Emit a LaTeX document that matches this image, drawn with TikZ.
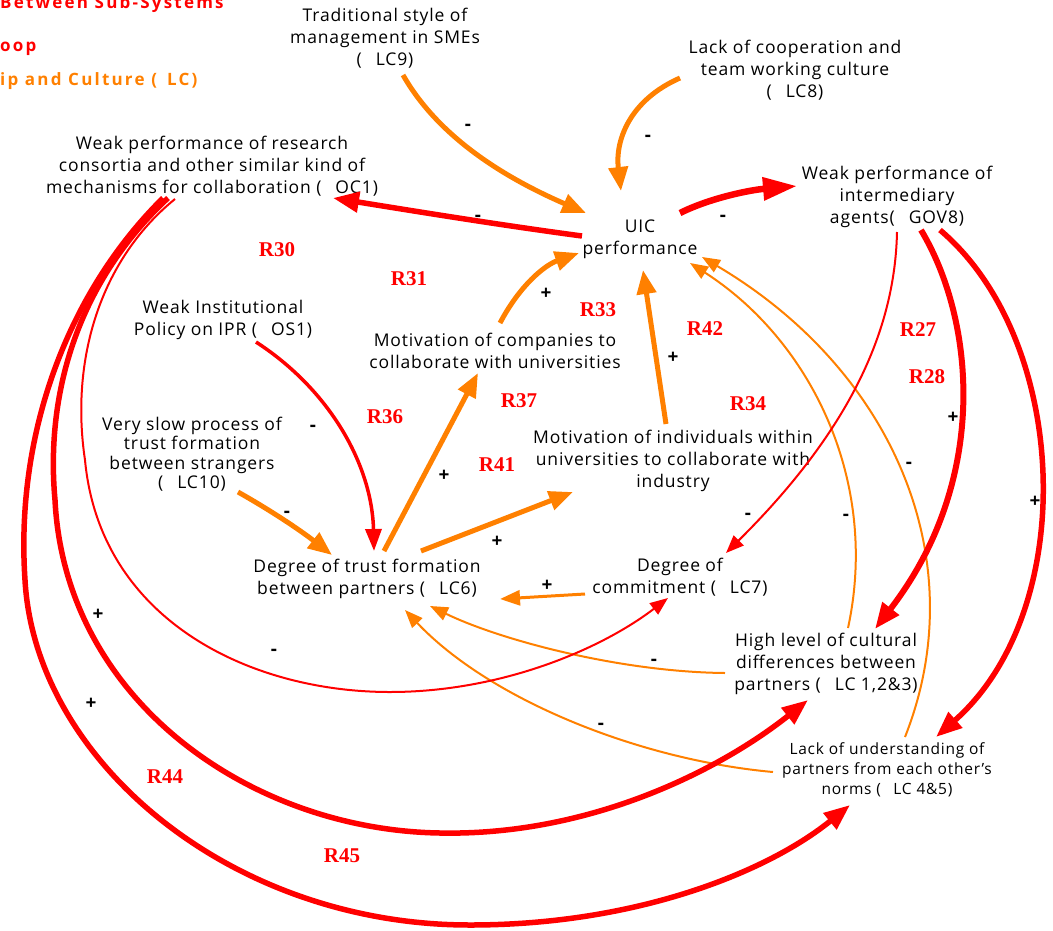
\documentclass[tikz,border=0pt]{standalone}
\usepackage{fontspec}
\setmainfont{Open Sans}[LetterSpace=5]
\newfontfamily\loopserif{Liberation Serif}
\newfontfamily\legendsans{Open Sans}[LetterSpace=13]
\newfontfamily\signsans{Open Sans}
\usetikzlibrary{arrows.meta}
\definecolor{cRed}{RGB}{255,0,0}
\definecolor{cOrange}{RGB}{255,128,0}

\tikzset{
  var/.style={align=center, inner sep=0pt, font=\fontsize{17.5}{22}\selectfont},
  varsmall/.style={align=center, inner sep=0pt, font=\fontsize{15.5}{20}\selectfont},
  looplabel/.style={inner sep=0pt, text=cRed, font=\fontsize{21}{24}\loopserif\bfseries},
  sgn/.style={inner sep=0pt, font=\fontsize{19}{20}\signsans\bfseries},
  legend/.style={inner sep=0pt, anchor=base west, font=\fontsize{17}{20}\legendsans\bfseries},
  oThick/.style={draw=cOrange, line width=5pt, -{Triangle[length=24pt,width=19pt]}},
  rThick/.style={draw=cRed, line width=5.5pt, -{Triangle[length=26pt,width=20pt]}},
  rMid/.style={draw=cRed, line width=3.5pt, -{Triangle[length=22pt,width=16pt]}},
  oMid/.style={draw=cOrange, line width=3pt, -{Triangle[length=20pt,width=15pt]}},
  oThin/.style={draw=cOrange, line width=2pt, -{Triangle[length=18pt,width=14pt]}},
  rThin/.style={draw=cRed, line width=2pt, -{Triangle[length=18pt,width=14pt]}},
}

\begin{document}
\begin{tikzpicture}[x=1pt, y=-1pt]
\useasboundingbox (0,0) rectangle (1053,930);
\clip (0,0) rectangle (1053,930);

% legend lines at the top left
\node[legend, text=cRed] (leg1) at (0,8) {Between Sub-Systems};
\node[legend, text=cRed] (leg2) at (0,51) {oop};
\node[legend, text=cOrange] (leg3) at (0,85) {ip and Culture (\hspace{0.6em}LC)};

% variables
\node[var] (lc9) at (385,38) {Traditional style of\\management in SMEs\\(\hspace{0.8em}LC9)};
\node[var] (lc8) at (795,70) {Lack of cooperation and\\team working culture\\(\hspace{0.8em}LC8)};
\node[var] (oc1) at (212,166) {Weak performance of research\\consortia and other similar kind of\\mechanisms for collaboration (\hspace{0.8em}OC1)};
\node[var] (uic) at (640,239) {UIC\\performance};
\node[var] (gov8) at (897,197) {Weak performance of\\intermediary\\agents(\hspace{0.8em}GOV8)};
\node[var] (os1) at (223,320) {Weak Institutional\\Policy on IPR (\hspace{0.8em}OS1)};
\node[var] (motc) at (495,351) {Motivation of companies to\\collaborate with universities};
\node[var, font=\fontsize{17.5}{19.5}\selectfont] (lc10) at (192,454) {Very slow process of\\trust formation\\between strangers\\(\hspace{0.8em}LC10)};
\node[var] (moti) at (673,461) {Motivation of individuals within\\universities to collaborate with\\industry};
\node[var] (lc6) at (367,579) {Degree of trust formation\\between partners (\hspace{0.8em}LC6)};
\node[var] (lc7) at (680,577) {Degree of\\commitment (\hspace{0.8em}LC7)};
\node[var] (lc123) at (826,664) {High level of cultural\\differences between\\partners (\hspace{0.8em}LC 1,2\&3)};
\node[varsmall] (lc45) at (887,770) {Lack of understanding of\\partners from each other's\\norms (\hspace{0.8em}LC 4\&5)};

% loop names
\node[looplabel] (r30) at (277,250) {R30};
\node[looplabel] (r31) at (409,279) {R31};
\node[looplabel] (r33) at (598,310) {R33};
\node[looplabel] (r42) at (705,329) {R42};
\node[looplabel] (r27) at (918,330) {R27};
\node[looplabel] (r28) at (927,377) {R28};
\node[looplabel] (r36) at (385,417) {R36};
\node[looplabel] (r37) at (519,401) {R37};
\node[looplabel] (r34) at (748,404) {R34};
\node[looplabel] (r41) at (497,465) {R41};
\node[looplabel] (r44) at (165,777) {R44};
\node[looplabel] (r45) at (342,856) {R45};

% links into UIC performance
\draw[oThick] ([shift={(18,37)}]lc9.center) .. controls (440,140) and (510,180) .. ([shift={(-54,-26)}]uic.center);
\draw[oThick] ([shift={(-115,8)}]lc8.center) .. controls (630,100) and (615,140) .. ([shift={(-19,-48)}]uic.center);
\draw[oThick] ([shift={(5,-28)}]motc.center) .. controls (520,285) and (545,265) .. ([shift={(-61,14)}]uic.center);
\draw[oThick] ([shift={(-7,-37)}]moti.center) -- ([shift={(3,31)}]uic.center);
\draw[oThin] ([shift={(22,-36)}]lc123.center) .. controls (880,480) and (810,340) .. ([shift={(50,24)}]uic.center);
\draw[oThin] ([shift={(18,-33)}]lc45.center) .. controls (975,560) and (893,370) .. ([shift={(62,18)}]uic.center);

% links out of UIC performance
\draw[rThick] ([shift={(-58,-3)}]uic.center) .. controls (500,225) and (420,212) .. ([shift={(121,32)}]oc1.center);
\draw[rThick, line width=6.5pt, -{Triangle[length=34pt,width=22pt]}] ([shift={(40,-26)}]uic.center) .. controls (710,198) and (750,190) .. ([shift={(-100,-11)}]gov8.center);

% links into trust formation
\draw[rMid] ([shift={(33,22)}]os1.center) .. controls (330,390) and (372,465) .. ([shift={(7,-28)}]lc6.center);
\draw[oThick] ([shift={(46,38)}]lc10.center) .. controls (270,510) and (300,530) .. ([shift={(-35,-24)}]lc6.center);
\draw[oMid] ([shift={(-95,17)}]lc7.center) -- ([shift={(133,20)}]lc6.center);
\draw[oThin] ([shift={(-101,9)}]lc123.center) .. controls (620,672) and (500,640) .. ([shift={(63,27)}]lc6.center);
\draw[oThin] ([shift={(-114,2)}]lc45.center) .. controls (640,760) and (490,700) .. ([shift={(38,31)}]lc6.center);

% links out of trust formation
\draw[oThick] ([shift={(17,-28)}]lc6.center) -- ([shift={(-17,22)}]motc.center);
\draw[oThick] ([shift={(54,-28)}]lc6.center) -- ([shift={(-100,31)}]moti.center);

% links out of intermediary agents
\draw[rThin] ([shift={(0,35)}]gov8.center) .. controls (895,330) and (850,430) .. ([shift={(46,-24)}]lc7.center);
\draw[rThick, line width=6pt] ([shift={(24,33)}]gov8.center) .. controls (975,320) and (990,480) .. ([shift={(49,-35)}]lc123.center);
\draw[rThick] ([shift={(43,33)}]gov8.center) .. controls (1070,340) and (1080,610) .. ([shift={(49,-33)}]lc45.center);

% long links out of research consortia
\draw[rThin] ([shift={(-37,33)}]oc1.center) .. controls (100,260) and (70,360) .. (85,460)
  .. controls (100,620) and (250,692) .. (390,692)
  .. controls (500,692) and (600,650) .. ([shift={(-12,21)}]lc7.center);
\draw[rThick] ([shift={(-44,32)}]oc1.center) .. controls (80,280) and (45,390) .. (55,500)
  .. controls (65,700) and (250,830) .. (440,833)
  .. controls (590,836) and (720,770) .. ([shift={(-18,36)}]lc123.center);
\draw[rThick] ([shift={(-49,32)}]oc1.center) .. controls (70,290) and (15,430) .. (25,580)
  .. controls (35,760) and (230,925) .. (470,925)
  .. controls (640,925) and (770,870) .. ([shift={(-37,35)}]lc45.center);

% link polarities
\node[sgn] (p1) at (468,127) {-};
\node[sgn] (p2) at (648,138) {-};
\node[sgn] (p3) at (478,218) {-};
\node[sgn] (p4) at (723,218) {-};
\node[sgn] (p5) at (546,294) {+};
\node[sgn] (p6) at (673,358) {+};
\node[sgn] (p7) at (313,428) {-};
\node[sgn] (p8) at (287,514) {-};
\node[sgn] (p9) at (444,476) {+};
\node[sgn] (p10) at (497,542) {+};
\node[sgn] (p11) at (547,586) {+};
\node[sgn] (p12) at (748,516) {-};
\node[sgn] (p13) at (846,517) {-};
\node[sgn] (p14) at (909,465) {-};
\node[sgn] (p15) at (953,418) {+};
\node[sgn] (p16) at (1035,502) {+};
\node[sgn] (p17) at (654,662) {-};
\node[sgn] (p18) at (601,726) {-};
\node[sgn] (p19) at (274,652) {-};
\node[sgn] (p20) at (98,615) {+};
\node[sgn] (p21) at (91,704) {+};
\end{tikzpicture}
\end{document}
